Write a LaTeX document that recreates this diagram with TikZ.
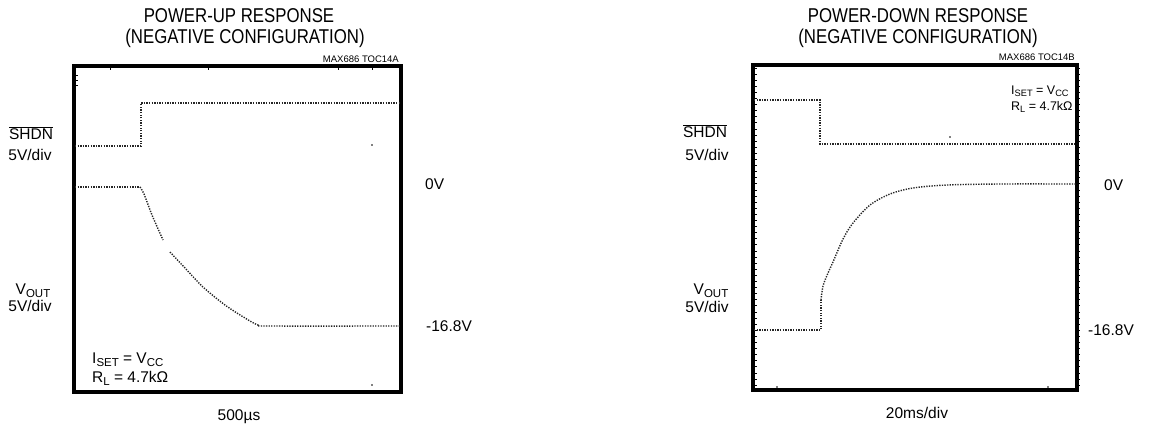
\documentclass[tikz,border=0pt]{standalone}
\usepackage{graphicx}
\usepackage{fontspec}
\setmainfont{Liberation Sans}
\newfontfamily\titlefont{Liberation Sans}[FakeStretch=0.84]
\newcommand{\lsub}[1]{\raisebox{-0.35ex}{\scalebox{0.74}{#1}}}
\newcommand{\shdnlbl}{$\overline{\mbox{SHDN}}$}
\begin{document}
\begin{tikzpicture}[x=1pt,y=-1pt,
  frame/.style={line width=3.5pt,line cap=rect},
  trace/.style={line width=1.4pt,dash pattern=on 1.3pt off 1.3pt,black!85},
  tickmark/.style={line width=0.9pt},
  ttl/.style={inner sep=0pt,font=\titlefont\fontsize{20}{23}\selectfont},
  lbl/.style={inner sep=0pt,font=\fontsize{15.5}{18}\selectfont},
  note/.style={inner sep=0pt,font=\fontsize{12.5}{14}\selectfont},
  tiny/.style={inner sep=0pt,font=\fontsize{9.5}{10}\selectfont}]
\useasboundingbox (0,0) rectangle (1154,426);
\fill[white] (0,0) rectangle (1154,426);

% ---------------- left panel ----------------
\node[ttl] (lt1) at (239,16) {POWER-UP RESPONSE};
\node[ttl] (lt2) at (245,38) {(NEGATIVE CONFIGURATION)};
\node[tiny,anchor=east] (lid) at (399,59) {MAX686 TOC14A};
\draw[frame] (74,66) rectangle (401,392);
% ticks
\foreach \x in {110,208,338,372} \draw[tickmark] (\x,67) -- (\x,70);
\foreach \y in {75,80,85} \draw[tickmark] (75,\y) -- (78,\y);
\fill (372,145) circle (0.8);
\fill (372,385) circle (0.8);
% traces
\draw[trace] (75,146) -- (141,146) -- (141,103) -- (400,103);
\draw[trace] (75,187) -- (140,187);
\draw[trace] plot[smooth] coordinates {(140,187) (144,194) (152,215) (163,240)};
\draw[trace] plot[smooth] coordinates {(170,252) (185,268) (203,287) (225,305) (245,318) (258,325) (270,326) (400,326)};
\node[lbl] (lsh) at (31,133) {\shdnlbl};
\node[lbl] (ldv1) at (30,155) {5V/div};
\node[lbl] (lvo) at (33,291) {V\lsub{OUT}};
\node[lbl] (ldv2) at (30,306) {5V/div};
\node[lbl,anchor=west] (l0v) at (425,184) {0V};
\node[lbl,anchor=west] (lneg) at (426,326) {-16.8V};
\node[lbl,anchor=west] (lis) at (92,360) {I\lsub{SET} = V\lsub{CC}};
\node[lbl,anchor=west] (lrl) at (92,378) {R\lsub{L} = 4.7kΩ};
\node[lbl] (ltime) at (239,417) {500µs};

% ---------------- right panel ----------------
\node[ttl] (rt1) at (918,16) {POWER-DOWN RESPONSE};
\node[ttl] (rt2) at (918,38) {(NEGATIVE CONFIGURATION)};
\node[tiny,anchor=east] (rid) at (1075,57) {MAX686 TOC14B};
\draw[frame] (753,65) rectangle (1077,390);
\foreach \i in {0,...,52} {
  \draw[tickmark] (754,{68+\i*6.1}) -- (757,{68+\i*6.1});
  \draw[tickmark] (1077,{68+\i*6.1}) -- (1080,{68+\i*6.1});
}
\fill (777,387) circle (0.8);
\fill (1048,387) circle (0.8);
\fill (950,137) circle (0.8);
\draw[trace] (754,100) -- (820,100) -- (820,144) -- (1076,144);
\draw[trace] (754,330) -- (821,330) -- (821,300);
\draw[trace] plot[smooth] coordinates {(821,300) (823,286) (828,273) (833,262) (843,239) (853,223) (870,205) (890,194) (913,188) (947,185) (1000,184) (1076,184)};
\node[lbl] (rsh) at (705,131) {\shdnlbl};
\node[lbl] (rdv1) at (707,155) {5V/div};
\node[lbl] (rvo) at (711,291) {V\lsub{OUT}};
\node[lbl] (rdv2) at (707,307) {5V/div};
\node[lbl,anchor=west] (r0v) at (1104,185) {0V};
\node[lbl,anchor=west] (rneg) at (1088,330) {-16.8V};
\node[note,anchor=west] (ris) at (1011,91) {I\lsub{SET} = V\lsub{CC}};
\node[note,anchor=west] (rrl) at (1011,107) {R\lsub{L} = 4.7kΩ};
\node[lbl] (rtime) at (917,413) {20ms/div};
\end{tikzpicture}
\end{document}
